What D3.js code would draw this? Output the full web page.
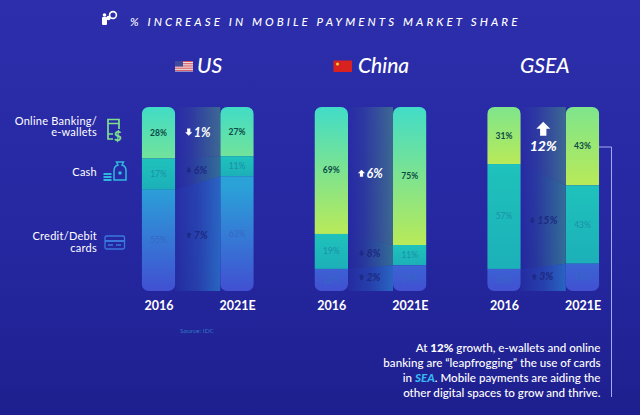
<!DOCTYPE html>
<html>
<head>
<meta charset="utf-8">
<script src="https://cdn.jsdelivr.net/npm/d3@7"></script>
<style>
    html, body { margin: 0; padding: 0; background: #2528a0; }
    svg { display: block; }
    text { font-family: Lato, "Open Sans", sans-serif; fill: #fff; }
</style>
</head>
<body>
<svg id="chart" width="640" height="415"></svg>
<script>
// values
const regions = ["US", "China", "GSEA"];
const years = ["2016", "2021E"];

const usShares = [[28, 17, 55], [27, 11, 63]];
const chinaShares = [[69, 19, 12], [75, 11, 14]];
const gseaShares = [[31, 57, 12], [43, 43, 15]];
const shares = [usShares, chinaShares, gseaShares];

// change between the two years, sign gives the arrow direction
const usChange = [-1, -6, 7];
const chinaChange = [6, -8, 2];
const gseaChange = [12, -15, 3];
const changes = [usChange, chinaChange, gseaChange];

const width = 640, height = 415;
const svg = d3.select("#chart");
const defs = svg.append("defs");

// colours of the top segment differ per region
const topColors = [["#41dcc6", "#72e39a"], ["#41dcc8", "#b9ea58"], ["#7ee58c", "#b9ea58"]];

function gradient(id, stops, vertical, userSpace) {
    const g = defs.append("linearGradient").attr("id", id);
    if (vertical) g.attr("x1", 0).attr("x2", 0).attr("y1", 0).attr("y2", 1);
    if (userSpace) g.attr("gradientUnits", "userSpaceOnUse").attr("x1", 0).attr("x2", 0).attr("y1", userSpace[0]).attr("y2", userSpace[1]);
    stops.forEach(s => g.append("stop").attr("offset", s[0]).attr("stop-color", s[1]).attr("stop-opacity", s[2] === undefined ? 1 : s[2]));
}

gradient("bg", [[0, "#2c2eab"], [0.55, "#2628a2"], [1, "#1e1f8e"]], true);
gradient("midSeg", [[0, "#1fc2bc"], [1, "#1cb0b8"]], true);
gradient("lowSeg", [[0, "#2aa2d8"], [1, "#4150d2"]], false, [185, 291]);
topColors.forEach((c, i) => gradient("topSeg" + i, [[0, c[0]], [1, c[1]]], true));
gradient("bandTop", [[0, "#3f6f90", 0], [0.35, "#3f6f90", 0.2], [1, "#3f6f90", 0.9]]);
gradient("bandMid", [[0, "#357a94", 0], [0.35, "#357a94", 0.2], [1, "#357a94", 0.85]]);
gradient("bandLow", [[0, "#2a70c8", 0.08], [0.5, "#2a70c8", 0.35], [1, "#2a70c8", 0.85]]);

svg.append("rect").attr("width", width).attr("height", height).attr("fill", "url(#bg)");

// scales
const barWidth = 33.5;
const panelX = d3.scalePoint().domain(regions).range([0, 345.5]);
const x = d3.scalePoint().domain(years).range([158.5, 237]);
const barTop = 107, barBottom = 291;

// turns one row of shares into [start, end] pieces
function stackRow(row) {
    return d3.stack().keys(d3.range(row.length))([row])
        .map(s => ({ y0: s[0][0], y1: s[0][1], total: d3.sum(row) }));
}

function yFor(total) {
    return d3.scaleLinear().domain([0, total]).range([barTop, barBottom]);
}

function arrowPath(up, s) {
    // small block arrow centred on 0,0
    const p = [[0, -1], [1, 0], [0.45, 0], [0.45, 1], [-0.45, 1], [-0.45, 0], [-1, 0]];
    return d3.line()(p.map(d => [d[0] * s, (up ? d[1] : -d[1]) * s])) + "Z";
}

regions.forEach((region, r) => {
    const panel = svg.append("g").attr("transform", `translate(${panelX(region)},0)`);
    const rows = shares[r].map(stackRow);
    const clipId = "clip" + r;
    const clip = defs.append("clipPath").attr("id", clipId);
    years.forEach(yr => clip.append("rect")
        .attr("x", x(yr) - barWidth / 2).attr("width", barWidth)
        .attr("y", barTop).attr("height", barBottom - barTop).attr("rx", 7));

    // connecting bands between the two bars
    const bx0 = x(years[0]) + barWidth / 2, bx1 = x(years[1]) - barWidth / 2;
    const area = d3.area().x(d => d.x).y0(d => d.a).y1(d => d.b);
    ["bandTop", "bandMid", "bandLow"].forEach((fill, s) => {
        const a = rows[0][s], b = rows[1][s];
        panel.append("path")
            .attr("d", area([
                { x: bx0, a: yFor(a.total)(a.y0), b: yFor(a.total)(a.y1) },
                { x: bx1, a: yFor(b.total)(b.y0), b: yFor(b.total)(b.y1) }
            ]))
            .attr("fill", `url(#${fill})`);
    });

    // bars
    const bars = panel.append("g").attr("clip-path", `url(#${clipId})`);
    years.forEach((yr, i) => {
        const y = yFor(rows[i][0].total);
        bars.selectAll(null).data(rows[i]).join("rect")
            .attr("x", x(yr) - barWidth / 2).attr("width", barWidth)
            .attr("y", d => y(d.y0)).attr("height", d => y(d.y1) - y(d.y0))
            .attr("fill", (d, s) => s === 0 ? `url(#topSeg${r})` : s === 1 ? "url(#midSeg)" : "url(#lowSeg)");
        panel.selectAll(null).data(rows[i]).join("text")
            .attr("x", x(yr)).attr("y", d => y((d.y0 + d.y1) / 2) + 3)
            .attr("text-anchor", "middle")
            .attr("font-size", 8.5).attr("font-weight", (d, s) => s === 0 ? 700 : 400)
            .style("fill", (d, s) => s === 0 ? "#0a4a45" : s === 1 ? "#1a90a6" : "#3468c4")
            .text((d, s) => shares[r][i][s] + "%");
    });

    // change labels
    changes[r].forEach((v, s) => {
        const y0 = yFor(rows[0][s].total), y1 = yFor(rows[1][s].total);
        const cy = (y0((rows[0][s].y0 + rows[0][s].y1) / 2) + y1((rows[1][s].y0 + rows[1][s].y1) / 2)) / 2 - (s === 2 ? 2 : 0);
        const cx = (bx0 + bx1) / 2;
        const main = s === 0;
        const col = main ? "#fff" : "#1d2a82";
        if (Math.abs(v) >= 12 && main) {
            panel.append("path").attr("d", arrowPath(true, 7)).attr("fill", col)
                .attr("transform", `translate(${cx},${cy - 12})`);
            panel.append("text").attr("x", cx).attr("y", cy + 10)
                .attr("text-anchor", "middle").attr("font-size", 14).attr("font-weight", 900)
                .attr("font-style", "italic").text(Math.abs(v) + "%");
        } else {
            const off = Math.abs(v) >= 10 ? 8 : 6;
            panel.append("path").attr("d", arrowPath(v > 0, main ? 3.6 : 2.8)).attr("fill", col)
                .attr("transform", `translate(${cx - off - 3},${cy})`);
            panel.append("text").attr("x", cx - off + 2).attr("y", cy + (main ? 4.5 : 3.5))
                .attr("font-size", main ? 12.5 : 10.5).attr("font-weight", 700)
                .attr("font-style", "italic").style("fill", col).text(Math.abs(v) + "%");
        }
    });

    // year labels
    const axis = panel.append("g").attr("transform", "translate(0,300)")
        .call(d3.axisBottom(x).tickSize(0).tickPadding(0));
    axis.select(".domain").remove();
    axis.selectAll("text").attr("dy", "0.8em").attr("font-size", 12.5).attr("font-weight", 700)
        .style("font-family", "Lato").style("fill", "#fff");

    // region heading
    panel.append("text").attr("x", [197, 358 - 172.75, 520 - 345.5][r]).attr("y", 73)
        .attr("font-size", 21).attr("font-weight", 500).attr("font-style", "italic")
        .text(region);
});

// title
svg.append("text").attr("x", 130).attr("y", 25.5)
    .attr("font-size", 11.5).attr("font-weight", 500).attr("font-style", "italic")
    .attr("letter-spacing", 3.1).text("% INCREASE IN MOBILE PAYMENTS MARKET SHARE");

// title icon
const ti = svg.append("g").attr("fill", "#fff");
ti.append("rect").attr("x", 102).attr("y", 17).attr("width", 5).attr("height", 8).attr("rx", 1);
ti.append("circle").attr("cx", 104.5).attr("cy", 15).attr("r", 1.8);
ti.append("circle").attr("cx", 113).attr("cy", 15).attr("r", 3.4).attr("fill", "none").attr("stroke", "#fff").attr("stroke-width", 1.6);
ti.append("circle").attr("cx", 108.5).attr("cy", 18).attr("r", 2.2);

// flags
const us = svg.append("g").attr("transform", "translate(175,61)");
us.append("rect").attr("width", 18).attr("height", 10.5).attr("fill", "#eee");
d3.range(0, 5).forEach(i => us.append("rect").attr("y", i * 2.2).attr("width", 18).attr("height", 1.1).attr("fill", "#d8505a"));
us.append("rect").attr("width", 8).attr("height", 5.5).attr("fill", "#3f4a9c");
const cn = svg.append("g").attr("transform", "translate(333.5,60.5)");
cn.append("rect").attr("width", 18.5).attr("height", 11.5).attr("fill", "#d9221f");
cn.append("circle").attr("cx", 4).attr("cy", 3.5).attr("r", 1.5).attr("fill", "#f3d23a");

// legend
const legendLines = [["Online Banking/", "e-wallets"], ["Cash"], ["Credit/Debit", "cards"]];
const legendY = [124.5, 175.5, 240];
legendLines.forEach((lines, i) => {
    lines.forEach((t, j) => svg.append("text")
        .attr("x", 97).attr("y", legendY[i] + j * 11.5)
        .attr("text-anchor", "end").attr("font-size", 11).attr("font-weight", 400)
        .attr("letter-spacing", 0.25).text(t));
});

// legend icons
const phone = svg.append("g").attr("fill", "none").attr("stroke", "#7fe08c").attr("stroke-width", 1.7);
phone.append("path").attr("d", "M113 139H108V119.5H119V129M108 123.5H119M108 134H113");
svg.append("text").attr("x", 114).attr("y", 140.5).attr("font-size", 13).attr("font-weight", 900).style("fill", "#7fe08c").text("$");
const cash = svg.append("g").attr("fill", "#2fb6e0");
cash.append("path").attr("d", "M114 171Q114 166 118 165L116.5 162H123.5L122 165Q126 166 126 171V180H114Z").attr("fill", "none").attr("stroke", "#2fb6e0").attr("stroke-width", 1.5);
cash.append("circle").attr("cx", 120).attr("cy", 173).attr("r", 1.8);
cash.selectAll(null).data(d3.range(3)).join("rect").attr("x", 103.5).attr("y", d => 173 + d * 3).attr("width", 8).attr("height", 2);
const card = svg.append("g").attr("fill", "none").attr("stroke", "#3a78e0").attr("stroke-width", 1.3);
card.append("rect").attr("x", 105).attr("y", 236).attr("width", 19.5).attr("height", 13).attr("rx", 1.5);
card.append("path").attr("d", "M105 241H124.5").attr("stroke-width", 2);
card.append("path").attr("d", "M108 245H113M116 245H121");

// source
svg.append("text").attr("x", 180).attr("y", 333).attr("font-size", 6.5).style("fill", "#2f78c8").text("Source: IDC");

// callout line and text
svg.append("path").attr("d", d3.line()([[599, 147], [611.5, 147], [611.5, 397]]))
    .attr("fill", "none").attr("stroke", "#a3a9f2").attr("stroke-width", 1);

const note = svg.append("g").attr("font-size", 11.6).attr("font-weight", 500).attr("text-anchor", "end");
const n1 = note.append("text").attr("x", 600.5).attr("y", 351.5);
n1.append("tspan").text("At ");
n1.append("tspan").attr("font-weight", 900).text("12%");
n1.append("tspan").text(" growth, e-wallets and online");
note.append("text").attr("x", 600.5).attr("y", 367).text("banking are \u201cleapfrogging\u201d the use of cards");
const n3 = note.append("text").attr("x", 600.5).attr("y", 382);
n3.append("tspan").text("in ");
n3.append("tspan").attr("font-weight", 900).attr("font-style", "italic").style("fill", "#37b6f0").text("SEA");
n3.append("tspan").text(". Mobile payments are aiding the");
note.append("text").attr("x", 600.5).attr("y", 397).text("other digital spaces to grow and thrive.");
</script>
</body>
</html>
